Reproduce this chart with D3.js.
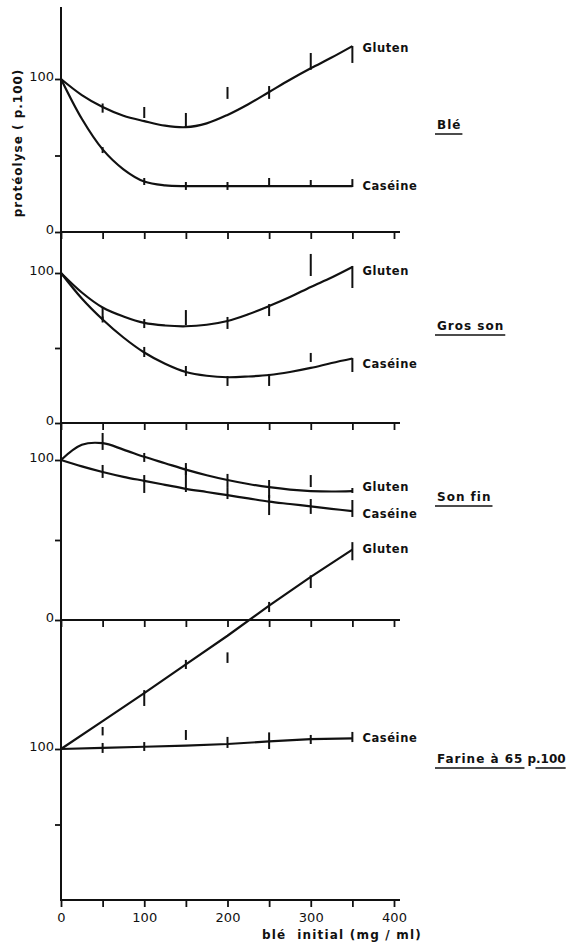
<!DOCTYPE html>
<html>
<head>
<meta charset="utf-8">
<script src="https://cdn.jsdelivr.net/npm/d3@7"></script>
<style>
body { margin: 0; background: #fff; }
text { font-family: "DejaVu Sans", sans-serif; fill: #111; }
</style>
</head>
<body>
<svg id="chart" width="572" height="947"></svg>
<script>
// doses of initial wheat (mg/ml)
const fineDoses = [0, 25, 50, 75, 100, 125, 150, 175, 200, 225, 250, 275, 300, 325, 350];
const doses = [0, 50, 100, 150, 200, 250, 300, 350];
const barDoses = [50, 100, 150, 200, 250, 300, 350];
const xTicks = [0, 50, 100, 150, 200, 250, 300, 350, 400];
const xTickLabels = [0, 100, 200, 300, 400];

// Blé
const bleGluten = [100, 89.5, 81.7, 76, 72.5, 69.5, 68.5, 71, 76.5, 83.5, 91.5, 99.5, 107, 114, 121.5];
const bleGlutenLo = [78, 74.5, 68, 87, 87, 106, 110.5];
const bleGlutenHi = [84, 81.7, 77.8, 94.8, 95.4, 117, 121.6];
const bleCaseine = [100, 74, 54, 41, 33, 30.5, 30, 30, 30, 30, 30, 30, 30, 30, 30];
const bleCaseineLo = [51.6, 30.7, 27.5, 27.5, 30, 30, 29.4];
const bleCaseineHi = [55.5, 35.3, 32.7, 32.7, 35.3, 34, 34.6];

// Gros son
const grosGluten = [100, 87, 77, 71, 66.7, 65, 64.5, 65.5, 68, 72.5, 78, 84, 90.7, 97, 104];
const grosGlutenLo = [68.7, 63.3, 65.3, 62.7, 71.3, 98, 90];
const grosGlutenHi = [77.3, 69.3, 75.3, 70.7, 79.3, 112.7, 104.7];
const grosCaseine = [100, 83, 69, 57, 47, 39.5, 34, 31.5, 30.5, 31, 32, 34, 36.7, 40, 43];
const grosCaseineLo = [67, 44, 31.3, 24.7, 24.7, 40.7, 34];
const grosCaseineHi = [71, 50.7, 38, 31.3, 32.7, 46.7, 43.3];

// Son fin
const finGluten = [100, 109.5, 110.5, 106.5, 102, 98, 94, 90.5, 87.5, 85, 83, 81.5, 80.6, 80.3, 80.6];
const finGlutenLo = [106.3, 98.8, 90.6, 83.1, 76.3, 83.1, 79.4];
const finGlutenHi = [116.9, 104.4, 98.1, 91.3, 87.5, 90.6, 82.5];
const finCaseine = [100, 96, 92.5, 89.5, 87, 84.5, 82, 80, 78, 76, 74, 72.5, 71, 69.5, 68];
const finCaseineLo = [88.8, 79.4, 80, 75.6, 65.6, 66.3, 64.4];
const finCaseineHi = [96.9, 90.6, 95.6, 83.1, 78.1, 75.6, 75];

// Farine à 65 p.100
const farGluten = [100, 118.5, 137, 156, 175, 195, 214, 232];
const farGlutenLo = [109, 128.5, 153, 157, 190.7, 206.6, 225];
const farGlutenHi = [114.6, 139, 159, 164, 197.4, 215, 237];
const farCaseine = [100, 100.7, 101.5, 102.3, 103.3, 105, 106.5, 107];
const farCaseineLo = [97.4, 98.7, 106, 100.7, 100, 103.3, 104.6];
const farCaseineHi = [104, 104.6, 112.6, 108, 111, 109.3, 111.3];

const panels = [
  { name: "Blé", y0: 232, y100: 79, yTicks: [0, 50, 100], labelY: 129,
    series: [
      { label: "Gluten", xs: fineDoses, fit: bleGluten, lo: bleGlutenLo, hi: bleGlutenHi, dy: 2 },
      { label: "Caséine", xs: fineDoses, fit: bleCaseine, lo: bleCaseineLo, hi: bleCaseineHi, dy: 0 }
    ] },
  { name: "Gros son", y0: 423, y100: 273, yTicks: [0, 50, 100], labelY: 330,
    series: [
      { label: "Gluten", xs: fineDoses, fit: grosGluten, lo: grosGlutenLo, hi: grosGlutenHi, dy: 4 },
      { label: "Caséine", xs: fineDoses, fit: grosCaseine, lo: grosCaseineLo, hi: grosCaseineHi, dy: 6 }
    ] },
  { name: "Son fin", y0: 620, y100: 460, yTicks: [0, 50, 100], labelY: 501,
    series: [
      { label: "Gluten", xs: fineDoses, fit: finGluten, lo: finGlutenLo, hi: finGlutenHi, dy: -4 },
      { label: "Caséine", xs: fineDoses, fit: finCaseine, lo: finCaseineLo, hi: finCaseineHi, dy: 3 }
    ] },
  { name: "Farine à 65", name2: "p.100", y0: 900, y100: 749, yTicks: [50, 100], labelY: 763, straight: true,
    series: [
      { label: "Gluten", xs: doses, fit: farGluten, lo: farGlutenLo, hi: farGlutenHi, dy: 0 },
      { label: "Caséine", xs: doses, fit: farCaseine, lo: farCaseineLo, hi: farCaseineHi, dy: 0 }
    ] }
];

const svg = d3.select("#chart");
const x = d3.scaleLinear().domain([0, 400]).range([61, 394]);
const ink = "#111";

// vertical axis, one line for the whole stack
svg.append("line")
  .attr("x1", x(0)).attr("x2", x(0))
  .attr("y1", 7).attr("y2", 901)
  .attr("stroke", ink).attr("stroke-width", 2);

panels.forEach(function(p, pi) {
  let y = d3.scaleLinear().domain([0, 100]).range([p.y0, p.y100]);
  let last = pi == panels.length - 1;

  // horizontal axis with ticks pointing down
  let gx = svg.append("g").attr("transform", "translate(0," + p.y0 + ")")
    .call(d3.axisBottom(x).tickValues(xTicks).tickSize(7).tickSizeOuter(0)
      .tickFormat(d => last && xTickLabels.includes(d) ? d : ""));
  gx.select(".domain").remove();
  gx.selectAll(".tick line").attr("stroke", ink).attr("stroke-width", 1.8);
  gx.selectAll(".tick text").attr("font-size", 13).attr("dy", "0.9em").style("fill", ink);
  gx.append("line").attr("x1", x(0)).attr("x2", x(400) + 6)
    .attr("stroke", ink).attr("stroke-width", 2);

  // left ticks
  let gy = svg.append("g").attr("transform", "translate(" + x(0) + ",0)")
    .call(d3.axisLeft(y).tickValues(p.yTicks).tickSize(6)
      .tickFormat(d => d == 50 ? "" : d));
  gy.select(".domain").remove();
  gy.selectAll(".tick line").attr("stroke", ink).attr("stroke-width", 1.8);
  gy.selectAll(".tick text").attr("font-size", 13).attr("x", -7).attr("dy", "0.1em").style("fill", ink);

  let line = d3.line()
    .x(d => x(d[0])).y(d => y(d[1]))
    .curve(p.straight ? d3.curveLinear : d3.curveCatmullRom.alpha(0.5));

  p.series.forEach(function(s) {
    let pts = s.xs.map((d, i) => [d, s.fit[i]]);
    svg.append("path").datum(pts)
      .attr("d", line)
      .attr("fill", "none").attr("stroke", ink).attr("stroke-width", 2.2);

    svg.selectAll(null).data(barDoses).enter().append("line")
      .attr("x1", d => x(d)).attr("x2", d => x(d))
      .attr("y1", (d, i) => y(s.lo[i]))
      .attr("y2", (d, i) => y(s.hi[i]))
      .attr("stroke", ink).attr("stroke-width", 2);

    let endV = s.fit[s.fit.length - 1];
    svg.append("text")
      .attr("x", x(350) + 10).attr("y", y(endV) + s.dy)
      .attr("dominant-baseline", "middle")
      .attr("font-size", 11.5).attr("font-weight", "bold")
      .attr("letter-spacing", 0.6)
      .text(s.label);
  });

  // panel name, underlined
  let t = svg.append("text")
    .attr("x", 437).attr("y", p.labelY)
    .attr("font-size", 12).attr("font-weight", "bold").attr("letter-spacing", 1)
    .text(p.name);
  let w = t.node().getComputedTextLength();
  svg.append("line").attr("x1", 435).attr("x2", 437 + w + 1)
    .attr("y1", p.labelY + 5).attr("y2", p.labelY + 5)
    .attr("stroke", ink).attr("stroke-width", 1.5);
  if (p.name2) {
    let t2 = svg.append("text")
      .attr("x", 437 + w + 4).attr("y", p.labelY)
      .attr("font-size", 12).attr("font-weight", "bold")
      .text(p.name2);
    let w2 = t2.node().getComputedTextLength();
    svg.append("line").attr("x1", 437 + w + 12).attr("x2", 437 + w + 4 + w2)
      .attr("y1", p.labelY + 5).attr("y2", p.labelY + 5)
      .attr("stroke", ink).attr("stroke-width", 1.5);
  }
});

// axis titles
svg.append("text")
  .attr("transform", "translate(22,143) rotate(-90)")
  .attr("text-anchor", "middle")
  .attr("font-size", 12).attr("font-weight", "bold").attr("letter-spacing", 1)
  .text("protéolyse ( p.100)");

svg.append("text")
  .attr("x", 262).attr("y", 939)
  .attr("font-size", 12).attr("font-weight", "bold").attr("letter-spacing", 1.2)
  .attr("xml:space", "preserve")
  .text("blé  initial (mg / ml)");
</script>
</body>
</html>
